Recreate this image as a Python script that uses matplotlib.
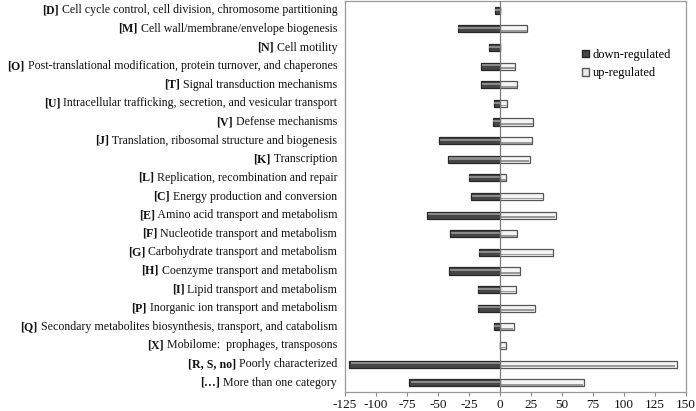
import matplotlib
matplotlib.use("Agg")
import matplotlib.pyplot as plt
from matplotlib.patches import Patch

codes = ["[D]", "[M]", "[N]", "[O]", "[T]", "[U]", "[V]", "[J]", "[K]", "[L]",
         "[C]", "[E]", "[F]", "[G]", "[H]", "[I]", "[P]", "[Q]", "[X]",
         "[R, S, no]", "[…]"]
names = ["Cell cycle control, cell division, chromosome partitioning",
         "Cell wall/membrane/envelope biogenesis",
         "Cell motility",
         "Post-translational modification, protein turnover, and chaperones",
         "Signal transduction mechanisms",
         "Intracellular trafficking, secretion, and vesicular transport",
         "Defense mechanisms",
         "Translation, ribosomal structure and biogenesis",
         "Transcription",
         "Replication, recombination and repair",
         "Energy production and conversion",
         "Amino acid transport and metabolism",
         "Nucleotide transport and metabolism",
         "Carbohydrate transport and metabolism",
         "Coenzyme transport and metabolism",
         "Lipid transport and metabolism",
         "Inorganic ion transport and metabolism",
         "Secondary metabolites biosynthesis, transport, and catabolism",
         "Mobilome:  prophages, transposons",
         "Poorly characterized",
         "More than one category"]
down_regulated = [-4, -34, -9, -15, -15, -5, -6, -49, -42, -25, -23, -59, -40,
                  -17, -41, -18, -18, -5, 0, -122, -73]
up_regulated = [0, 22, 0, 12, 14, 6, 27, 26, 24, 5, 35, 45, 14, 43, 16, 13,
                28, 11, 5, 143, 68]
xticks = [-125, -100, -75, -50, -25, 0, 25, 50, 75, 100, 125, 150]

SERIF = "Liberation Serif"
plt.rcParams["font.family"] = [SERIF, "DejaVu Serif"]

fig = plt.figure(figsize=(6.96, 4.11), dpi=100)
ax = fig.add_axes([345/696, (411-392)/411, (686-345)/696, (392-1)/411])

n = len(codes)
ys = list(range(n))
h = 0.38

# down-regulated: dark bevelled bars
ax.barh(ys, down_regulated, height=h, color="#464646", edgecolor="#262626",
        linewidth=0.9, zorder=3)
ax.barh([y - 0.04 for y in ys], [v * 0.985 for v in down_regulated], height=0.11,
        color="#8a8a8a", linewidth=0, zorder=4)
# up-regulated: light bevelled bars
ax.barh(ys, up_regulated, height=h, color="#f4f4f4", edgecolor="#555555",
        linewidth=0.9, zorder=3)
ax.barh([y + 0.11 for y in ys], [v * 0.985 for v in up_regulated], height=0.09,
        color="#9a9a9a", linewidth=0, zorder=4)

ax.axvline(0, color="#7a7a7a", linewidth=0.9, zorder=5)

ax.set_xlim(-125, 150)
ax.set_ylim(n - 0.5, -0.5)
ax.set_xticks(xticks)
ax.set_xticklabels([str(t) for t in xticks], fontsize=9.5)
ax.set_yticks(ys)
ax.set_yticklabels([])
ax.tick_params(axis="y", length=0)
ax.tick_params(axis="x", length=3, color="#888888", pad=2, labelcolor="#111111")
for s in ax.spines.values():
    s.set_color("#9a9a9a")
    s.set_linewidth(0.9)

fs = 8.6
fig.canvas.draw()
r = fig.canvas.get_renderer()
trans = ax.get_yaxis_transform()
for y, c, nm in zip(ys, codes, names):
    t = ax.text(-0.023, y, " " + nm, transform=trans, ha="right", va="center",
                fontsize=fs, color="#111111")
    bb = t.get_window_extent(renderer=r)
    x0 = ax.transAxes.inverted().transform((bb.x0, 0))[0]
    ax.text(x0, y, c, transform=trans, ha="right", va="center",
            fontsize=fs, fontweight="bold", color="#111111")

handles = [Patch(facecolor="#464646", edgecolor="#262626", label="down-regulated"),
           Patch(facecolor="#e8e8e8", edgecolor="#5a5a5a", label="up-regulated")]
ax.legend(handles=handles, loc="upper left", bbox_to_anchor=(0.68, 0.89),
          frameon=False, fontsize=9, handlelength=0.55, handleheight=0.55,
          handletextpad=0.3, labelspacing=0.5, borderaxespad=0)

fig.savefig("out.png", dpi=100)
